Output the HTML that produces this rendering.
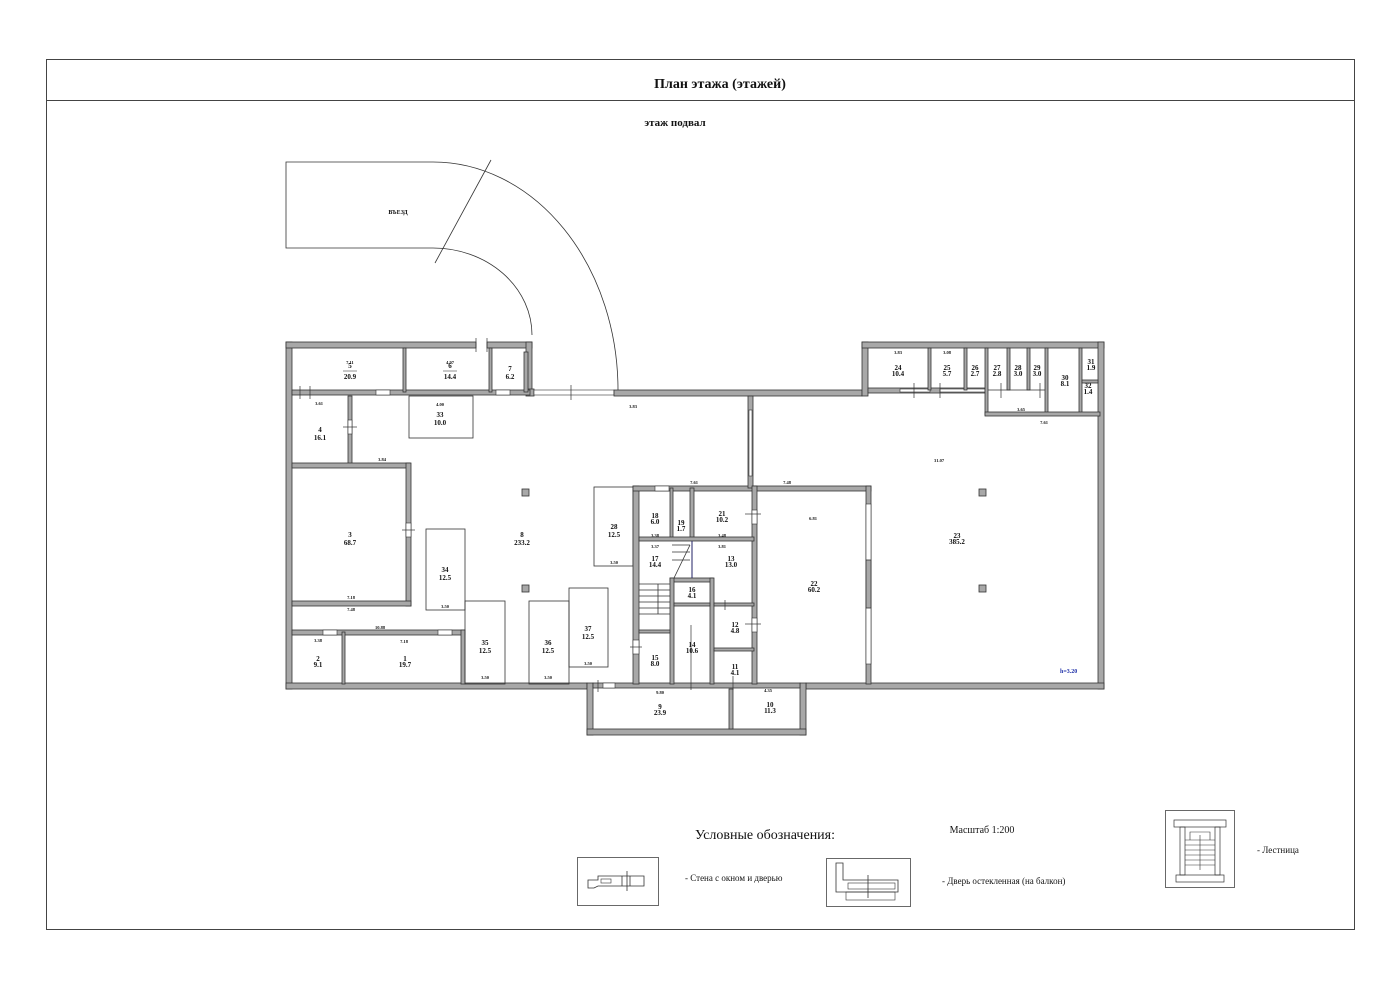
<!DOCTYPE html>
<html><head><meta charset="utf-8"><style>
html,body{margin:0;padding:0;background:#fff;}
svg{display:block;}
text{font-family:"Liberation Serif",serif;fill:#111;}
.w{fill:#a8a8a8;stroke:#333;stroke-width:0.8;}
.t{fill:none;stroke:#333;stroke-width:0.8;}
.n{font-size:7px;text-anchor:middle;font-family:"Liberation Sans",sans-serif;font-weight:bold;}
.d{font-size:4.5px;text-anchor:middle;font-family:"Liberation Sans",sans-serif;font-weight:bold;}
.win{fill:#fff;stroke:#333;stroke-width:0.6;}
</style></head><body>
<svg width="1400" height="989" viewBox="0 0 1400 989" xmlns="http://www.w3.org/2000/svg">
<rect x="0" y="0" width="1400" height="989" fill="#fff"/>
<rect x="46.5" y="59.5" width="1308" height="870" fill="none" stroke="#444" stroke-width="1"/>
<line x1="46.5" y1="100.5" x2="1354.5" y2="100.5" stroke="#444" stroke-width="1"/>
<text x="720" y="88" font-size="14" font-weight="bold" text-anchor="middle">План этажа (этажей)</text>
<text x="675" y="126" font-size="11" font-weight="bold" text-anchor="middle">этаж подвал</text>

<!-- ramp -->
<path class="t" d="M433,162 L286,162 L286,248 L433,248 A99,87 0 0 1 532,335"/>
<path class="t" d="M433,162 A185,228 0 0 1 618,390"/>
<line class="t" x1="491" y1="160" x2="435" y2="263"/>
<text x="398" y="214" font-size="6" text-anchor="middle" font-weight="bold">ВЪЕЗД</text>

<!-- outer walls -->
<rect class="w" x="286" y="342" width="6" height="347"/>
<rect class="w" x="286" y="342" width="190" height="6"/>
<rect class="w" x="487" y="342" width="45" height="6"/>
<rect class="w" x="526" y="342" width="6" height="52"/>
<rect class="w" x="526" y="389" width="8" height="7"/>
<rect class="win" x="534" y="390" width="80" height="5"/>
<rect class="w" x="614" y="390" width="248" height="6"/>
<rect class="w" x="862" y="342" width="6" height="54"/>
<rect class="w" x="862" y="342" width="242" height="6"/>
<rect class="w" x="1098" y="342" width="6" height="347"/>
<rect class="w" x="286" y="683" width="301" height="6"/>
<rect class="w" x="806" y="683" width="298" height="6"/>
<rect class="w" x="587" y="683" width="6" height="52"/>
<rect class="w" x="800" y="683" width="6" height="52"/>
<rect class="w" x="587" y="729" width="219" height="6"/>
<rect class="w" x="593" y="683" width="207" height="5"/>
<rect class="win" x="603" y="683" width="12" height="5"/>
<rect class="w" x="729" y="689" width="4" height="40"/>

<!-- rooms 5,6,7 -->
<rect class="w" x="292" y="390" width="238" height="5"/>
<rect class="win" x="376" y="390" width="14" height="5"/>
<rect class="win" x="496" y="390" width="14" height="5"/>
<rect class="w" x="403" y="348" width="3" height="44"/>
<rect class="w" x="489" y="348" width="3" height="44"/>
<rect class="w" x="524" y="352" width="4" height="40"/>
<!-- room 4 -->
<rect class="w" x="348" y="396" width="4" height="70"/>
<rect class="win" x="348" y="420" width="4" height="14"/>
<rect class="w" x="292" y="463" width="118" height="5"/>
<!-- room 3 -->
<rect class="w" x="406" y="463" width="5" height="143"/>
<rect class="win" x="406" y="523" width="5" height="14"/>
<rect class="w" x="292" y="601" width="119" height="5"/>
<!-- rooms 2,1 -->
<rect class="w" x="292" y="630" width="173" height="5"/>
<rect class="win" x="323" y="630" width="14" height="5"/>
<rect class="win" x="438" y="630" width="14" height="5"/>
<rect class="w" x="342" y="632" width="3" height="52"/>
<rect class="w" x="461" y="630" width="4" height="54"/>
<rect class="win" x="465" y="630" width="0" height="0"/>

<!-- thin outlined zones -->
<rect class="t" x="409" y="396" width="64" height="42"/>
<rect class="t" x="426" y="529" width="39" height="81"/>
<rect class="t" x="465" y="601" width="40" height="83"/>
<rect class="t" x="529" y="601" width="40" height="83"/>
<rect class="t" x="569" y="588" width="39" height="79"/>
<rect class="t" x="594" y="487" width="39" height="79"/>

<!-- columns -->
<rect class="w" x="522" y="489" width="7" height="7"/>
<rect class="w" x="522" y="585" width="7" height="7"/>
<rect class="w" x="979" y="489" width="7" height="7"/>
<rect class="w" x="979" y="585" width="7" height="7"/>

<!-- central core -->
<rect class="w" x="633" y="486" width="6" height="198"/>
<rect class="win" x="633" y="640" width="6" height="14"/>
<rect class="w" x="633" y="486" width="238" height="5"/>
<rect class="win" x="655" y="486" width="14" height="5"/>
<rect class="w" x="748" y="396" width="5" height="92"/>
<rect class="win" x="749" y="410" width="3" height="66"/>
<rect class="w" x="752" y="486" width="5" height="198"/>
<rect class="win" x="752" y="510" width="5" height="14"/>
<rect class="win" x="752" y="618" width="5" height="14"/>
<rect class="w" x="670" y="488" width="3" height="52"/>
<rect class="w" x="690" y="488" width="4" height="52"/>
<rect class="w" x="639" y="537" width="115" height="4"/>
<rect class="w" x="670" y="578" width="43" height="4"/>
<rect class="w" x="670" y="578" width="4" height="106"/>
<rect class="w" x="710" y="578" width="4" height="106"/>
<rect class="w" x="674" y="603" width="36" height="3"/>
<rect class="w" x="714" y="603" width="40" height="3"/>
<rect class="w" x="639" y="630" width="31" height="3"/>
<rect class="w" x="714" y="648" width="40" height="3"/>
<!-- stair -->
<line class="t" x1="639" y1="584" x2="670" y2="584"/>
<line class="t" x1="639" y1="590" x2="670" y2="590"/>
<line class="t" x1="639" y1="596" x2="670" y2="596"/>
<line class="t" x1="639" y1="602" x2="670" y2="602"/>
<line class="t" x1="639" y1="608" x2="670" y2="608"/>
<line class="t" x1="639" y1="614" x2="670" y2="614"/>
<line class="t" x1="658" y1="584" x2="658" y2="614"/>
<line class="t" x1="672" y1="545" x2="690" y2="545"/>
<line class="t" x1="672" y1="552" x2="690" y2="552"/>
<line class="t" x1="672" y1="560" x2="690" y2="560"/>
<line class="t" x1="674" y1="578" x2="690" y2="545"/>
<line x1="692" y1="541" x2="692" y2="578" stroke="#226" stroke-width="1"/>

<!-- room 22 -->
<rect class="w" x="866" y="486" width="5" height="198"/>
<rect class="win" x="866" y="504" width="5" height="160"/>
<rect class="w" x="866" y="560" width="5" height="48"/>

<!-- right small rooms -->
<rect class="w" x="868" y="388" width="117" height="5"/>
<rect class="win" x="900" y="389" width="30" height="3"/>
<rect class="win" x="940" y="389" width="45" height="3"/>
<rect class="w" x="928" y="348" width="3" height="42"/>
<rect class="w" x="964" y="348" width="3" height="42"/>
<rect class="w" x="985" y="348" width="3" height="67"/>
<rect class="w" x="1007" y="348" width="3" height="42"/>
<rect class="w" x="1027" y="348" width="3" height="42"/>
<rect class="w" x="1045" y="348" width="3" height="67"/>
<rect class="w" x="1079" y="348" width="3" height="67"/>
<rect class="w" x="1082" y="380" width="16" height="3"/>
<rect class="w" x="985" y="412" width="115" height="4"/>
<line class="t" x1="988" y1="390" x2="1045" y2="390"/>

<!-- door ticks -->
<g stroke="#333" stroke-width="0.7">
<line x1="300" y1="386" x2="300" y2="399"/><line x1="310" y1="386" x2="310" y2="399"/>
<line x1="476" y1="338" x2="476" y2="352"/><line x1="487" y1="338" x2="487" y2="352"/>
<line x1="571" y1="385" x2="571" y2="400"/>
<line x1="343" y1="427" x2="357" y2="427"/>
<line x1="402" y1="530" x2="415" y2="530"/>
<line x1="914" y1="383" x2="914" y2="398"/><line x1="940" y1="383" x2="940" y2="398"/>
<line x1="1001" y1="383" x2="1001" y2="398"/><line x1="1040" y1="383" x2="1040" y2="398"/>
<line x1="745" y1="514" x2="761" y2="514"/><line x1="745" y1="624" x2="761" y2="624"/>
<line x1="630" y1="647" x2="642" y2="647"/>
<line x1="691" y1="625" x2="691" y2="690"/><line x1="733" y1="676" x2="733" y2="690"/>
<line x1="598" y1="680" x2="598" y2="692"/>
<line x1="725" y1="610" x2="725" y2="600"/>
</g>

<!-- labels -->
<g class="n">
<text x="350" y="368">5</text><line x1="343" y1="371" x2="357" y2="371" stroke="#222" stroke-width="0.5"/><text x="350" y="379">20.9</text>
<text x="450" y="368">6</text><line x1="443" y1="371" x2="457" y2="371" stroke="#222" stroke-width="0.5"/><text x="450" y="379">14.4</text>
<text x="510" y="371">7</text><text x="510" y="379">6.2</text>
<text x="440" y="417">33</text><text x="440" y="425">10.0</text>
<text x="320" y="432">4</text><text x="320" y="440">16.1</text>
<text x="350" y="537">3</text><text x="350" y="545">68.7</text>
<text x="522" y="537">8</text><text x="522" y="545">233.2</text>
<text x="445" y="572">34</text><text x="445" y="580">12.5</text>
<text x="485" y="645">35</text><text x="485" y="653">12.5</text>
<text x="548" y="645">36</text><text x="548" y="653">12.5</text>
<text x="588" y="631">37</text><text x="588" y="639">12.5</text>
<text x="614" y="529">28</text><text x="614" y="537">12.5</text>
<text x="318" y="661">2</text><text x="318" y="667">9.1</text>
<text x="405" y="661">1</text><text x="405" y="667">19.7</text>
<text x="655" y="518">18</text><text x="655" y="524">6.0</text>
<text x="681" y="525">19</text><text x="681" y="531">1.7</text>
<text x="722" y="516">21</text><text x="722" y="522">10.2</text>
<text x="655" y="561">17</text><text x="655" y="567">14.4</text>
<text x="731" y="561">13</text><text x="731" y="567">13.0</text>
<text x="692" y="592">16</text><text x="692" y="598">4.1</text>
<text x="735" y="627">12</text><text x="735" y="633">4.8</text>
<text x="655" y="660">15</text><text x="655" y="666">8.0</text>
<text x="692" y="647">14</text><text x="692" y="653">10.6</text>
<text x="735" y="669">11</text><text x="735" y="675">4.1</text>
<text x="660" y="709">9</text><text x="660" y="715">23.9</text>
<text x="770" y="707">10</text><text x="770" y="713">11.3</text>
<text x="814" y="586">22</text><text x="814" y="592">60.2</text>
<text x="957" y="538">23</text><text x="957" y="544">385.2</text>
<text x="898" y="370">24</text><text x="898" y="376">10.4</text>
<text x="947" y="370">25</text><text x="947" y="376">5.7</text>
<text x="975" y="370">26</text><text x="975" y="376">2.7</text>
<text x="997" y="370">27</text><text x="997" y="376">2.8</text>
<text x="1018" y="370">28</text><text x="1018" y="376">3.0</text>
<text x="1037" y="370">29</text><text x="1037" y="376">3.0</text>
<text x="1065" y="380">30</text><text x="1065" y="386">8.1</text>
<text x="1091" y="364">31</text><text x="1091" y="370">1.9</text>
<text x="1088" y="388">32</text><text x="1088" y="394">1.4</text>
</g>
<g class="d">
<text x="350" y="364">7.11</text><text x="450" y="364">4.97</text><text x="319" y="405">3.61</text>
<text x="382" y="461">3.84</text><text x="351" y="599">7.18</text><text x="351" y="611">7.48</text>
<text x="380" y="629">10.88</text><text x="318" y="642">3.38</text><text x="404" y="643">7.18</text>
<text x="440" y="406">4.00</text><text x="633" y="408">3.83</text><text x="694" y="484">7.61</text>
<text x="787" y="484">7.48</text><text x="813" y="520">6.81</text><text x="939" y="462">31.07</text>
<text x="1044" y="424">7.61</text><text x="1021" y="411">3.65</text><text x="660" y="694">9.80</text>
<text x="768" y="692">4.35</text><text x="655" y="548">3.37</text><text x="722" y="548">3.81</text>
<text x="614" y="564">3.50</text><text x="445" y="608">3.50</text><text x="588" y="665">3.50</text>
<text x="485" y="679">3.50</text><text x="548" y="679">3.50</text><text x="722" y="537">3.48</text>
<text x="655" y="537">3.38</text><text x="898" y="354">3.83</text><text x="947" y="354">3.08</text>
</g>
<text x="1060" y="673" font-size="6" fill="#2233aa" font-family="Liberation Sans,sans-serif" font-weight="bold" style="fill:#2233aa">h=3.20</text>

<!-- legend -->
<text x="765" y="839" font-size="14" text-anchor="middle">Условные обозначения:</text>
<text x="982" y="833" font-size="10" text-anchor="middle">Масштаб 1:200</text>
<rect x="577.5" y="857.5" width="81" height="48" fill="none" stroke="#444" stroke-width="0.8"/>
<path class="t" d="M588,888 L588,880 L598,880 L598,876 L644,876 L644,886 L598,886 L594,888 Z"/>
<line class="t" x1="622" y1="876" x2="622" y2="886"/><line class="t" x1="630" y1="876" x2="630" y2="886"/>
<line class="t" x1="627" y1="871" x2="627" y2="891"/>
<rect x="601" y="879" width="10" height="4" fill="none" stroke="#333" stroke-width="0.6"/>
<text x="685" y="881" font-size="9">- Стена с окном  и дверью</text>
<rect x="826.5" y="858.5" width="84" height="48" fill="none" stroke="#444" stroke-width="0.8"/>
<path class="t" d="M836,863 L843,863 L843,880 L898,880 L898,892 L836,892 Z"/>
<rect x="848" y="883" width="47" height="6" fill="none" stroke="#333" stroke-width="0.6"/>
<line class="t" x1="868" y1="875" x2="868" y2="898"/>
<rect x="846" y="892" width="49" height="8" fill="none" stroke="#333" stroke-width="0.6"/>
<text x="942" y="884" font-size="9">- Дверь остекленная (на балкон)</text>
<rect x="1165.5" y="810.5" width="69" height="77" fill="none" stroke="#444" stroke-width="0.8"/>
<rect x="1174" y="820" width="52" height="7" fill="none" stroke="#333" stroke-width="0.7"/>
<rect x="1180" y="827" width="5" height="48" fill="none" stroke="#333" stroke-width="0.7"/>
<rect x="1215" y="827" width="5" height="48" fill="none" stroke="#333" stroke-width="0.7"/>
<rect x="1176" y="875" width="48" height="7" fill="none" stroke="#333" stroke-width="0.7"/>
<g stroke="#333" stroke-width="0.6">
<line x1="1185" y1="840" x2="1215" y2="840"/><line x1="1185" y1="845" x2="1215" y2="845"/>
<line x1="1185" y1="850" x2="1215" y2="850"/><line x1="1185" y1="855" x2="1215" y2="855"/>
<line x1="1185" y1="860" x2="1215" y2="860"/><line x1="1185" y1="865" x2="1215" y2="865"/>
<line x1="1200" y1="835" x2="1200" y2="870"/>
<path d="M1190,840 L1190,832 L1210,832 L1210,840" fill="none"/>
</g>
<text x="1257" y="853" font-size="9">- Лестница</text>
</svg>
</body></html>
